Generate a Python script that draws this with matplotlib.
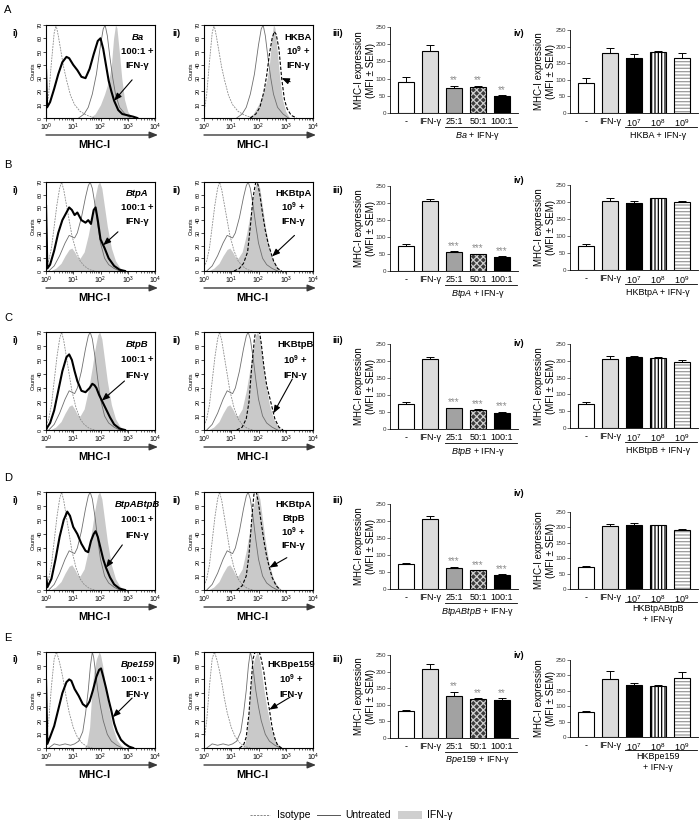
import numpy as np
import matplotlib
matplotlib.use('Agg')
import matplotlib.pyplot as plt
from matplotlib.patches import Rectangle
from matplotlib.lines import Line2D
from matplotlib.ticker import LogLocator, NullFormatter

plt.rcParams['font.family'] = ['Liberation Sans', 'DejaVu Sans']
plt.rcParams['mathtext.fontset'] = 'custom'
plt.rcParams['mathtext.rm'] = 'Liberation Sans'
plt.rcParams['mathtext.it'] = 'Liberation Sans:italic'
plt.rcParams['mathtext.bf'] = 'Liberation Sans:bold'
plt.rcParams['hatch.linewidth'] = 0.9

# ---------------- histogram data (log10 MHC-I fluorescence, counts) ----------------
# Row A controls
ISO_A_LOGX = [0.0, 0.1, 0.2, 0.3, 0.37, 0.45, 0.55, 0.65, 0.76, 0.9, 1.05, 1.25, 1.5, 1.8]
ISO_A_CNT = [4, 18, 42, 64, 70, 62, 50, 38, 28, 17, 10, 5, 2, 0]
UNT_A_LOGX = [1.2, 1.4, 1.55, 1.7, 1.85, 2.0, 2.1, 2.17, 2.25, 2.35, 2.45, 2.55, 2.7, 2.9, 3.1]
UNT_A_CNT = [0, 3, 8, 18, 33, 55, 67, 70, 62, 45, 30, 18, 8, 3, 0]
IFN_A_LOGX = [1.6, 1.8, 2.0, 2.15, 2.3, 2.4, 2.48, 2.55, 2.6, 2.68, 2.78, 2.88, 3.0, 3.15]
IFN_A_CNT = [0, 3, 10, 18, 28, 40, 60, 70, 68, 52, 30, 14, 5, 0]
TRT_A1_LOGX = [0, 0, 0.04, 0.15, 0.3, 0.45, 0.6, 0.75, 0.85, 1.0, 1.15, 1.3, 1.45, 1.6, 1.75, 1.9, 2.0,
               2.1, 2.2, 2.3, 2.4, 2.5, 2.65, 2.8, 3.0, 3.2, 3.35]
TRT_A1_CNT = [0, 37, 8, 12, 22, 33, 42, 46, 45, 40, 36, 31, 30, 37, 48, 58, 60, 52, 40, 28, 20, 13, 6, 3, 2, 1, 0]
TRT_A2_LOGX = [1.7, 1.9, 2.05, 2.2, 2.3, 2.4, 2.5, 2.58, 2.65, 2.75, 2.85, 2.95, 3.05, 3.2, 3.4]
TRT_A2_CNT = [0, 3, 8, 20, 32, 48, 60, 65, 63, 52, 30, 14, 7, 2, 0]

# Rows B-D controls
ISO_BCD_LOGX = [0.0, 0.1, 0.2, 0.3, 0.4, 0.5, 0.57, 0.65, 0.75, 0.85, 0.95, 1.1, 1.25, 1.4, 1.6, 1.8]
ISO_BCD_CNT = [3, 8, 18, 35, 52, 65, 70, 64, 52, 40, 28, 16, 8, 4, 1, 0]
UNT_BCD_LOGX = [0.1, 0.3, 0.5, 0.7, 0.85, 0.95, 1.05, 1.15, 1.3, 1.45, 1.55, 1.62, 1.7, 1.8, 1.9, 2.0,
                2.15, 2.3, 2.5, 2.7]
UNT_BCD_CNT = [0, 4, 12, 22, 28, 27, 26, 30, 42, 58, 67, 70, 65, 52, 36, 22, 10, 5, 2, 0]
IFN_BCD_LOGX = [0.15, 0.35, 0.55, 0.7, 0.85, 0.95, 1.05, 1.15, 1.25, 1.4, 1.55, 1.7, 1.8, 1.9, 1.97,
                2.05, 2.15, 2.25, 2.4, 2.55, 2.7, 2.85]
IFN_BCD_CNT = [0, 2, 6, 12, 17, 18, 15, 11, 10, 15, 28, 45, 58, 68, 70, 65, 50, 35, 18, 8, 3, 0]
TRT_B1_LOGX = [0, 0, 0.05, 0.15, 0.3, 0.45, 0.6, 0.75, 0.85, 0.95, 1.05, 1.15, 1.3, 1.45, 1.55, 1.65,
               1.75, 1.82, 1.9, 2.0, 2.15, 2.3, 2.5, 2.7, 2.9]
TRT_B1_CNT = [0, 52, 2, 5, 16, 30, 40, 46, 50, 48, 44, 46, 40, 38, 40, 37, 48, 50, 40, 25, 18, 10, 4, 1, 0]
TRT_B2_LOGX = [1.1, 1.3, 1.45, 1.6, 1.7, 1.8, 1.9, 1.98, 2.05, 2.15, 2.25, 2.35, 2.45, 2.55, 2.7, 2.85]
TRT_B2_CNT = [0, 2, 6, 15, 35, 58, 70, 68, 60, 45, 32, 22, 15, 8, 2, 0]
TRT_C1_LOGX = [0, 0.05, 0.15, 0.3, 0.45, 0.6, 0.75, 0.85, 0.95, 1.05, 1.15, 1.3, 1.45, 1.6, 1.7, 1.78,
               1.85, 1.95, 2.05, 2.2, 2.35, 2.5, 2.7, 2.9]
TRT_C1_CNT = [0, 2, 5, 14, 28, 42, 52, 54, 50, 42, 35, 28, 27, 30, 33, 32, 30, 25, 21, 15, 9, 4, 1, 0]
TRT_C2_LOGX = [1.2, 1.4, 1.55, 1.65, 1.75, 1.85, 1.93, 2.0, 2.1, 2.2, 2.3, 2.45, 2.6, 2.75, 2.9]
TRT_C2_CNT = [0, 2, 8, 20, 45, 65, 75, 75, 62, 45, 32, 20, 8, 2, 0]
TRT_D1_LOGX = [0, 0, 0.05, 0.2, 0.35, 0.5, 0.65, 0.78, 0.88, 1.0, 1.15, 1.3, 1.45, 1.55, 1.65, 1.75,
               1.82, 1.9, 2.0, 2.1, 2.2, 2.35, 2.5, 2.7, 2.9]
TRT_D1_CNT = [0, 10, 2, 8, 22, 38, 50, 56, 53, 45, 40, 33, 28, 27, 35, 40, 42, 38, 30, 22, 16, 9, 4, 1, 0]
TRT_D2_LOGX = [1.2, 1.4, 1.55, 1.65, 1.75, 1.83, 1.9, 2.0, 2.1, 2.2, 2.3, 2.4, 2.5, 2.65, 2.8]
TRT_D2_CNT = [0, 3, 10, 25, 50, 68, 72, 62, 48, 35, 24, 16, 9, 3, 0]

# Row E controls
ISO_E_LOGX = [0.0, 0.1, 0.2, 0.3, 0.38, 0.45, 0.55, 0.65, 0.75, 0.85, 1.0, 1.15, 1.3, 1.5, 1.7]
ISO_E_CNT = [5, 20, 45, 65, 70, 66, 58, 48, 36, 26, 15, 8, 4, 1, 0]
UNT_E_LOGX = [0.1, 0.3, 0.5, 0.7, 0.9, 1.05, 1.2, 1.35, 1.45, 1.55, 1.63, 1.7, 1.75, 1.82, 1.9, 2.0,
              2.1, 2.25, 2.4, 2.6, 2.8]
UNT_E_CNT = [0, 3, 2, 3, 2, 3, 5, 12, 25, 42, 60, 70, 66, 55, 42, 30, 20, 10, 5, 2, 0]
IFN_E_LOGX = [1.4, 1.5, 1.6, 1.68, 1.75, 1.85, 1.95, 2.0, 2.08, 2.18, 2.3, 2.45, 2.6, 2.75, 2.9]
IFN_E_CNT = [0, 3, 15, 40, 55, 65, 70, 68, 60, 45, 30, 15, 6, 2, 0]
TRT_E1_LOGX = [0, 0, 0.05, 0.15, 0.3, 0.45, 0.6, 0.75, 0.85, 0.93, 1.05, 1.2, 1.35, 1.48, 1.6, 1.72,
               1.85, 1.95, 2.02, 2.1, 2.2, 2.3, 2.4, 2.5, 2.6, 2.75, 2.9, 3.05, 3.2]
TRT_E1_CNT = [0, 50, 3, 8, 16, 28, 40, 48, 50, 49, 43, 38, 32, 30, 34, 42, 52, 57, 58, 52, 44, 35, 27,
              18, 12, 6, 3, 1, 0]
TRT_E2_LOGX = [1.3, 1.45, 1.55, 1.65, 1.72, 1.8, 1.9, 2.0, 2.1, 2.2, 2.3, 2.4, 2.5, 2.6, 2.7, 2.85]
TRT_E2_CNT = [0, 2, 8, 25, 45, 65, 72, 72, 65, 55, 40, 28, 15, 7, 2, 0]

# ---------------- bar data (MFI mean, SEM) ----------------
CATS_III = ["-", "IFN-γ", "25:1", "50:1", "100:1"]
CATS_IV = ["-", "IFN-γ", "10$^7$", "10$^8$", "10$^9$"]
A_III_MEAN = [89, 181, 74, 75, 48]
A_III_SEM = [15, 16, 5, 4, 4]
A_IV_MEAN = [89, 182, 167, 184, 167]
A_IV_SEM = [15, 14, 12, 3, 15]
B_III_MEAN = [74, 205, 57, 50, 42]
B_III_SEM = [5, 8, 1, 1, 1]
B_IV_MEAN = [72, 204, 198, 211, 199]
B_IV_SEM = [5, 8, 4, 2, 5]
C_III_MEAN = [73, 206, 62, 57, 47]
C_III_SEM = [6, 7, 1, 2, 4]
C_IV_MEAN = [72, 205, 212, 209, 197]
C_IV_SEM = [5, 8, 3, 3, 4]
D_III_MEAN = [73, 206, 63, 55, 41]
D_III_SEM = [3, 8, 2, 1, 2]
D_IV_MEAN = [71, 203, 208, 207, 193]
D_IV_SEM = [5, 9, 5, 2, 1]
E_III_MEAN = [82, 209, 128, 118, 114]
E_III_SEM = [1, 13, 12, 2, 6]
E_IV_MEAN = [82, 188, 170, 167, 190]
E_IV_SEM = [1, 25, 4, 2, 20]
STARS = ["**", "***", "***", "***", "**"]
STRAINS = ["Ba", "BtpA", "BtpB", "BtpABtpB", "Bpe159"]
HK_LABELS = ["HKBA + IFN-γ", "HKBtpA + IFN-γ", "HKBtpB + IFN-γ", "HKBtpABtpB\n+ IFN-γ", "HKBpe159\n+ IFN-γ"]
HK_TEXT = [["HKBA"], ["HKBtpA"], ["HKBtpB"], ["HKBtpA", "BtpB"], ["HKBpe159"]]
ROW_LETTERS = ["A", "B", "C", "D", "E"]

# ---------------- layout (pixels) ----------------
W, H = 700, 823
fig = plt.figure(figsize=(7, 8.23), dpi=100)


def px_axes(l, t, w, h):
    return fig.add_axes([l / W, 1 - (t + h) / H, w / W, h / H])


HIST_TOP = [25, 182, 332, 492, 652]
HIST_BOT = [118, 271, 430, 590, 748]
BAR3_TB = [(27, 113), (186, 271), (344, 429), (504, 589), (655, 738)]
BAR4_TB = [(30, 113), (185, 270), (344, 428), (512, 589), (660, 737)]
LETTER_Y = [10, 165, 318, 478, 638]
IV_Y = [33, 180, 343, 493, 655]
ARROW_I = [(0.79, 0.41), (0.66, 0.44), (0.72, 0.50), (0.70, 0.46), (0.79, 0.52)]
ARROW_II = [(0.79, 0.39), (0.83, 0.40), (0.81, 0.52), (0.76, 0.33), (0.79, 0.53)]
TARGET_I = [2.5, 2.1, 2.05, 2.2, 2.45]
TARGET_II = [2.85, 2.5, 2.55, 2.4, 2.4]
TEXT_X_II = [0.86, 0.82, 0.84, 0.82, 0.80]
HX = [46, 204]
HW = 109

ov = fig.add_axes([0, 0, 1, 1])
ov.set_xlim(0, W)
ov.set_ylim(H, 0)
ov.axis('off')
ov.set_zorder(10)

ctrl_sets = [
    ((ISO_A_LOGX, ISO_A_CNT), (UNT_A_LOGX, UNT_A_CNT), (IFN_A_LOGX, IFN_A_CNT)),
    ((ISO_BCD_LOGX, ISO_BCD_CNT), (UNT_BCD_LOGX, UNT_BCD_CNT), (IFN_BCD_LOGX, IFN_BCD_CNT)),
    ((ISO_BCD_LOGX, ISO_BCD_CNT), (UNT_BCD_LOGX, UNT_BCD_CNT), (IFN_BCD_LOGX, IFN_BCD_CNT)),
    ((ISO_BCD_LOGX, ISO_BCD_CNT), (UNT_BCD_LOGX, UNT_BCD_CNT), (IFN_BCD_LOGX, IFN_BCD_CNT)),
    ((ISO_E_LOGX, ISO_E_CNT), (UNT_E_LOGX, UNT_E_CNT), (IFN_E_LOGX, IFN_E_CNT)),
]
trt_live = [(TRT_A1_LOGX, TRT_A1_CNT), (TRT_B1_LOGX, TRT_B1_CNT), (TRT_C1_LOGX, TRT_C1_CNT),
            (TRT_D1_LOGX, TRT_D1_CNT), (TRT_E1_LOGX, TRT_E1_CNT)]
trt_hk = [(TRT_A2_LOGX, TRT_A2_CNT), (TRT_B2_LOGX, TRT_B2_CNT), (TRT_C2_LOGX, TRT_C2_CNT),
          (TRT_D2_LOGX, TRT_D2_CNT), (TRT_E2_LOGX, TRT_E2_CNT)]
bar3 = [(A_III_MEAN, A_III_SEM), (B_III_MEAN, B_III_SEM), (C_III_MEAN, C_III_SEM),
        (D_III_MEAN, D_III_SEM), (E_III_MEAN, E_III_SEM)]
bar4 = [(A_IV_MEAN, A_IV_SEM), (B_IV_MEAN, B_IV_SEM), (C_IV_MEAN, C_IV_SEM),
        (D_IV_MEAN, D_IV_SEM), (E_IV_MEAN, E_IV_SEM)]

STYLE_III = [dict(fc='white'), dict(fc='#dcdcdc'), dict(fc='#a2a2a2'),
             dict(fc='#3c3c3c', hatch='xxxxx', hc='#cfcfcf'), dict(fc='black')]
STYLE_IV = [dict(fc='white'), dict(fc='#dcdcdc'), dict(fc='black'),
            dict(fc='white', hatch='|||||', hc='black'), dict(fc='white', hatch='-----', hc='#9a9a9a')]


def hist_panel(ax, ctrl, trt, live, lines, italic_first, target, arrow_from, text_x, line_step):
    iso, unt, ifn = ctrl
    ax.fill_between(10 ** np.array(ifn[0]), ifn[1], color='#c9c9c9', lw=0, zorder=1)
    ax.plot(10 ** np.array(iso[0]), iso[1], color='#8c8c8c', lw=0.6, ls=(0, (2.2, 1.2)), zorder=2)
    ax.plot(10 ** np.array(unt[0]), unt[1], color='#6e6e6e', lw=0.6, zorder=2)
    if live:
        ax.plot(10 ** np.array(trt[0]), trt[1], color='black', lw=1.5, zorder=3)
    else:
        ax.plot(10 ** np.array(trt[0]), trt[1], color='black', lw=0.8, ls=(0, (3, 1.6)), zorder=3)
    ax.set_xscale('log')
    ax.set_xlim(1, 1e4)
    ax.set_ylim(0, 70)
    ax.xaxis.set_major_locator(LogLocator(base=10, numticks=10))
    ax.xaxis.set_minor_locator(LogLocator(base=10, subs=np.arange(2, 10), numticks=20))
    ax.xaxis.set_minor_formatter(NullFormatter())
    ax.set_yticks(np.arange(0, 71, 10))
    ax.tick_params(axis='x', which='major', labelsize=5, length=2, width=0.5, pad=1)
    ax.tick_params(axis='x', which='minor', length=1.2, width=0.4)
    ax.tick_params(axis='y', labelsize=4, length=2, width=0.5, pad=0.5, labelrotation=90)
    for lab in ax.get_yticklabels():
        lab.set_va('center')
    ax.set_ylabel('Counts', fontsize=4, labelpad=1)
    for sp in ax.spines.values():
        sp.set_linewidth(0.8)
    # annotation text
    y = 0.87
    for k, t in enumerate(lines):
        style = 'italic' if (italic_first and k == 0) else 'normal'
        ax.text(text_x, y, t, transform=ax.transAxes, ha='center', va='center', fontsize=6.8,
                fontweight='bold', fontstyle=style, zorder=5)
        y -= line_step
    tx = 10 ** target
    ty = np.interp(target, trt[0], trt[1])
    ax.annotate('', xy=(tx, ty), xycoords='data', xytext=arrow_from, textcoords='axes fraction',
                arrowprops=dict(arrowstyle='-|>,head_length=0.45,head_width=0.18', color='black',
                                lw=0.8, shrinkA=0, shrinkB=0), zorder=6)


def bar_panel(ax, means, sems, cats, styles, stars, group_label, two_line):
    x = np.arange(len(means))
    for i in range(len(means)):
        st = styles[i]
        if 'hatch' in st:
            ax.bar(x[i], means[i], width=0.7, color=st['fc'], edgecolor=st['hc'], hatch=st['hatch'],
                   lw=0, zorder=2)
        else:
            ax.bar(x[i], means[i], width=0.7, color=st['fc'], lw=0, zorder=2)
        ax.bar(x[i], means[i], width=0.7, fill=False, edgecolor='black', lw=0.8, zorder=3)
    ax.errorbar(x, means, yerr=[np.zeros(len(sems)), sems], fmt='none', ecolor='black',
                elinewidth=0.7, capsize=2.6, capthick=0.7, zorder=4)
    if stars:
        for i in range(2, len(means)):
            ax.text(x[i], means[i] + sems[i] + 1, stars, ha='center', va='bottom', fontsize=7,
                    color='#8c8c8c', zorder=5)
    ax.set_xlim(-0.67, len(means) - 0.33)
    ax.set_ylim(0, 250)
    ax.set_yticks(np.arange(0, 251, 50))
    ax.set_xticks(x)
    ax.set_xticklabels(cats)
    ax.tick_params(axis='x', length=0, labelsize=6.5, pad=3)
    ax.tick_params(axis='y', labelsize=4.5, length=2, width=0.5, pad=1, colors='#333333')
    ax.spines['top'].set_visible(False)
    ax.spines['right'].set_visible(False)
    ax.spines['left'].set_linewidth(0.6)
    ax.spines['bottom'].set_linewidth(0.6)
    ax.set_ylabel('MHC-I expression\n(MFI ± SEM)', fontsize=7, linespacing=1.15, va='center')
    ax.yaxis.set_label_coords(-0.195, 0.5)
    tr = ax.get_xaxis_transform()
    ax.plot([1.62, len(means) - 0.38], [-0.165, -0.165], transform=tr, color='black', lw=0.6,
            clip_on=False)
    if two_line:
        ax.text(3.0, -0.2, group_label, transform=tr, ha='center', va='top', fontsize=6.5,
                linespacing=1.3)
    else:
        ax.text(3.0, -0.27, group_label, transform=tr, ha='center', va='center', fontsize=6.5)


for r in range(5):
    top, bot = HIST_TOP[r], HIST_BOT[r]
    hh = bot - top
    # histograms
    ax1 = px_axes(HX[0], top, HW, hh)
    hist_panel(ax1, ctrl_sets[r], trt_live[r], True, [STRAINS[r], "100:1 +", "IFN-γ"], True,
               TARGET_I[r], ARROW_I[r], 0.84, 0.155)
    hk_lines = HK_TEXT[r] + ["10$^{\\mathbf{9}}$ +", "IFN-γ"]
    ax2 = px_axes(HX[1], top, HW, hh)
    hist_panel(ax2, ctrl_sets[r], trt_hk[r], False, hk_lines, False,
               TARGET_II[r], ARROW_II[r], TEXT_X_II[r], 0.155 if len(hk_lines) == 3 else 0.14)
    for hx in HX:
        ov.annotate('', xy=(hx + HW + 3, bot + 17), xytext=(hx, bot + 17),
                    arrowprops=dict(arrowstyle='-|>,head_length=0.5,head_width=0.2', color='#3a3a3a',
                                    lw=1.0, shrinkA=0, shrinkB=0))
        ov.text(hx + HW / 2 - 6, bot + 27, 'MHC-I', ha='center', va='center', fontsize=8,
                fontweight='bold')
    # bars
    t3, b3 = BAR3_TB[r]
    ax3 = px_axes(390, t3, 128, b3 - t3)
    bar_panel(ax3, bar3[r][0], bar3[r][1], CATS_III, STYLE_III, STARS[r],
              "$\\mathit{" + STRAINS[r] + "}$ + IFN-γ", False)
    t4, b4 = BAR4_TB[r]
    ax4 = px_axes(570, t4, 128, b4 - t4)
    bar_panel(ax4, bar4[r][0], bar4[r][1], CATS_IV, STYLE_IV, None, HK_LABELS[r],
              '\n' in HK_LABELS[r])
    # labels
    ov.text(4, LETTER_Y[r], ROW_LETTERS[r], fontsize=8, ha='left', va='center')
    ov.text(12, top + 8, 'i)', fontsize=6.5, fontweight='bold', ha='left', va='center')
    ov.text(172, top + 8, 'ii)', fontsize=6.5, fontweight='bold', ha='left', va='center')
    ov.text(332, top + 8, 'iii)', fontsize=6.5, fontweight='bold', ha='left', va='center')
    ov.text(513, IV_Y[r], 'iv)', fontsize=6.5, fontweight='bold', ha='left', va='center')

# legend
ov.add_line(Line2D([250, 270], [815, 815], color='#888888', lw=0.7, ls=(0, (2.2, 1.2))))
ov.text(277, 815, 'Isotype', fontsize=7.5, va='center', ha='left')
ov.add_line(Line2D([317, 340], [815, 815], color='#555555', lw=0.7))
ov.text(345, 815, 'Untreated', fontsize=7.5, va='center', ha='left')
ov.add_patch(Rectangle((398, 811), 24, 8, color='#cfcfcf', lw=0))
ov.text(427, 815, 'IFN-γ', fontsize=7.5, va='center', ha='left')

fig.savefig('out.png', dpi=100)
